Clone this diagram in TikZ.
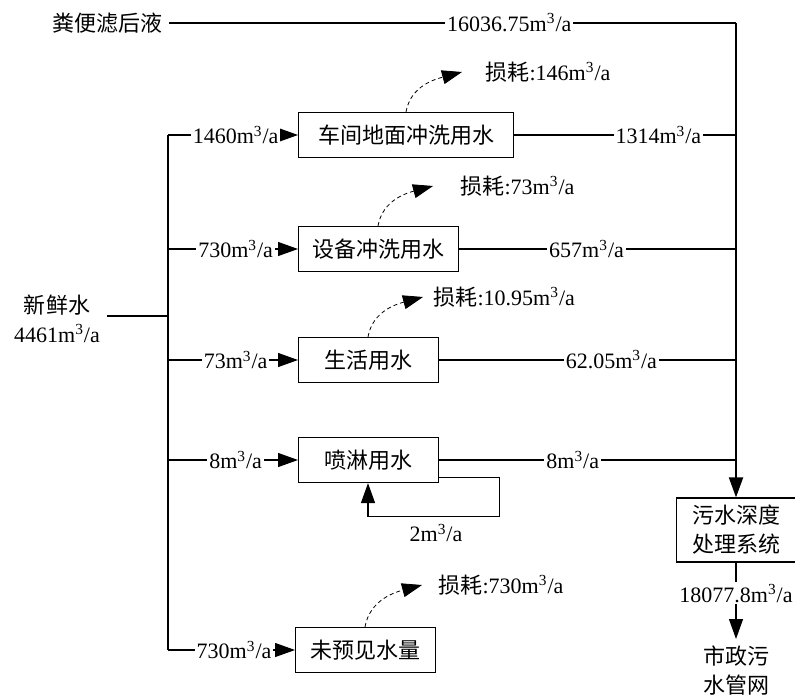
\documentclass[tikz,border=0pt]{standalone}
\usepackage{fontspec}
\setmainfont{Liberation Serif}
\newfontfamily\cjk{Noto Sans CJK SC}
\usetikzlibrary{arrows.meta,positioning,calc}
\newcommand{\zi}{\fontsize{11}{14.5}\selectfont}
\newcommand{\mca}{m\textsuperscript{3}/a}
\tikzset{
  xiang/.style={draw,inner sep=0pt,minimum height=22.5pt,font=\zi\cjk,align=center},
  jian/.style={-{Triangle[length=10pt,width=7pt]}},
  zhu/.style={line width=1pt},
  biao/.style={fill=white,inner sep=1pt},
  sun/.style={dash pattern=on 2pt off 1.5pt,line width=0.4pt,-{Triangle[length=10pt,width=7pt]}},
  sunb/.style={anchor=west,inner sep=1pt},
}

\begin{document}
\begin{tikzpicture}[x=0.5pt,y=-0.5pt,font=\zi,line width=0.6pt]
  \useasboundingbox (0,0) rectangle (795,695);
  \node (fen) at (107,23) {\cjk 粪便滤后液};
  \node[align=center] (xin) at (57,319) {{\cjk 新鲜水}\\4461\mca};
  \coordinate (jiao) at (736,23);
  \coordinate (g0) at (168,316);
  \coordinate (g1) at (168,135);
  \coordinate (g5) at (168,650);
  \foreach \n/\y/\w/\t in {1/135/215/车间地面冲洗用水,2/249/160/设备冲洗用水,3/360/140/生活用水,4/460/140/喷淋用水}
    \node[xiang,minimum width=\w*0.5pt,anchor=west] (b\n) at (298,\y) {\t};
  \node[xiang,minimum width=70pt,anchor=west] (b5) at (295,650) {未预见水量};
  \node[xiang,minimum width=59.5pt,minimum height=32pt] (chuli) at (736,530) {污水深度\\处理系统};
  \node[align=center,font=\zi\cjk] (sz) at (736,671) {市政污\\水管网};

  \draw (xin.east |- g0) -- (g0);
  \draw (g1) -- (g5);
  \foreach \n/\v in {1/1460,2/730,3/73,4/8,5/730}
    \draw[jian] (b\n.west -| g1) -- (b\n.west) node[biao,pos=0.52] (r\n) {\v\mca};

  \draw (fen) -- (jiao) node[biao,pos=0.6] (c0) {16036.75\mca};
  \foreach \n/\p/\v in {1/0.65/1314,2/0.46/657,3/0.58/62.05,4/0.45/8}
    \draw (b\n.east) -- (b\n.east -| jiao) node[biao,pos=\p] (c\n) {\v\mca};
  \draw[zhu,jian] (jiao) -- (chuli.north);
  \draw[jian] (chuli.south) -- (sz.north) node[biao,pos=0.4] (c6) {18077.8\mca};

  \draw[jian] ([yshift=3pt]b4.south east) -- ++(60,0) -- ++(0,39) -| ([xshift=35pt]b4.south west);
  \node (hui) at (436,533) {2\mca};

  \coordinate (t1) at (462,72);
  \coordinate (t2) at (433,186);
  \coordinate (t3) at (423,297);
  \coordinate (t5) at (422,585);
  \node[sunb] (s1) at (483,72) {{\cjk 损耗}:146\mca};
  \node[sunb] (s2) at (458,186) {{\cjk 损耗}:73\mca};
  \node[sunb] (s3) at (431,297) {{\cjk 损耗}:10.95\mca};
  \node[sunb] (s5) at (436,585) {{\cjk 损耗}:730\mca};
  \draw[sun] ([xshift=54pt]b1.north west) to[out=80,in=195] (t1);
  \draw[sun] ([xshift=40pt]b2.north west) to[out=80,in=195] (t2);
  \draw[sun] ([xshift=35pt]b3.north west) to[out=80,in=195] (t3);
  \draw[sun] ([xshift=35pt]b5.north west) to[out=80,in=195] (t5);
\end{tikzpicture}
\end{document}
